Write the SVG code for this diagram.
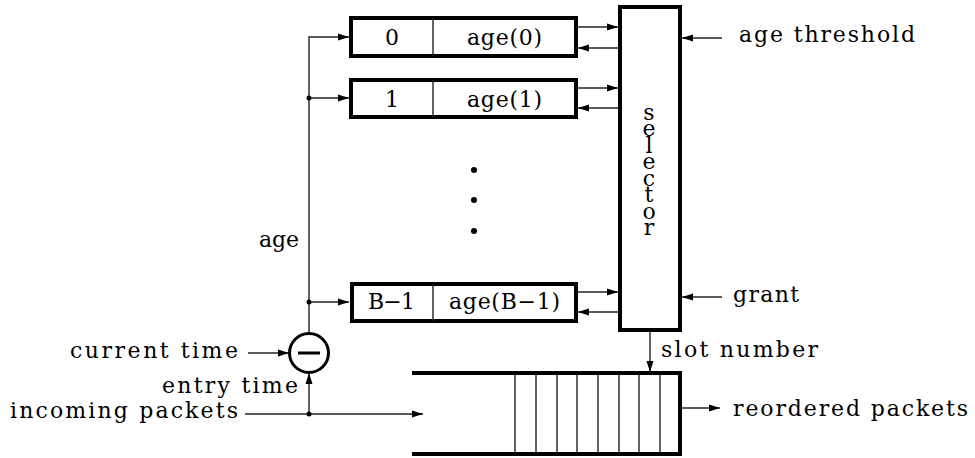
<svg xmlns="http://www.w3.org/2000/svg" width="975" height="458" viewBox="0 0 975 458">
  <style>
    .thin { fill: none; stroke: #222; stroke-width: 1.4; }
    .thick { fill: #fff; stroke: #000; stroke-width: 4; }
    .bar { fill: none; stroke: #000; stroke-width: 4; }
    .lbl { font-family: 'DejaVu Serif', 'Liberation Serif', serif; font-size: 22px; fill: #000; }
    .mid { text-anchor: middle; }
    .vert { writing-mode: vertical-rl; text-orientation: upright; }
    .dot { fill: #000; }
  </style>
  <defs>
    <marker id="arr" markerUnits="userSpaceOnUse" markerWidth="12" markerHeight="10" refX="11" refY="4" orient="auto">
      <path d="M0,0.5 L11,4 L0,7.5 Z" fill="#000"/>
    </marker>
  </defs>

  <!-- connectors -->
  <g id="connectors" class="thin">
    <!-- age bus feeding the slot registers -->
    <path d="M309,333 V37 H349" marker-end="url(#arr)"/>
    <path d="M309,98 H349" marker-end="url(#arr)"/>
    <path d="M309,302 H349" marker-end="url(#arr)"/>
    <!-- register <-> selector -->
    <path d="M578,27 H618" marker-end="url(#arr)"/>
    <path d="M618,48 H578" marker-end="url(#arr)"/>
    <path d="M578,88 H618" marker-end="url(#arr)"/>
    <path d="M618,108 H578" marker-end="url(#arr)"/>
    <path d="M578,292 H618" marker-end="url(#arr)"/>
    <path d="M618,312 H578" marker-end="url(#arr)"/>
    <!-- selector inputs -->
    <path d="M722,38 H682" marker-end="url(#arr)"/>
    <path d="M722,297 H682" marker-end="url(#arr)"/>
    <!-- slot number -->
    <path d="M650,332 V372" marker-end="url(#arr)"/>
    <!-- subtractor inputs -->
    <path d="M248,353 H289" marker-end="url(#arr)"/>
    <path d="M309,414 V373" marker-end="url(#arr)"/>
    <!-- packets in / out -->
    <path d="M245,414 H423" marker-end="url(#arr)"/>
    <path d="M682,408 H720" marker-end="url(#arr)"/>
  </g>

  <g id="junctions">
    <circle class="dot" cx="309" cy="98" r="2.5"/>
    <circle class="dot" cx="309" cy="302" r="2.5"/>
    <circle class="dot" cx="309" cy="414" r="2.5"/>
  </g>

  <!-- slot registers -->
  <g id="slot0">
    <rect class="thick" x="351" y="18" width="225" height="38"/>
    <line class="thin" x1="433" y1="18" x2="433" y2="56"/>
    <text class="lbl mid" x="392" y="45">0</text>
    <text class="lbl" x="467" y="45" textLength="75" lengthAdjust="spacing">age(0)</text>
  </g>
  <g id="slot1">
    <rect class="thick" x="351" y="80" width="225" height="37"/>
    <line class="thin" x1="433" y1="80" x2="433" y2="117"/>
    <text class="lbl mid" x="392" y="107">1</text>
    <text class="lbl" x="467" y="107" textLength="75" lengthAdjust="spacing">age(1)</text>
  </g>
  <g id="ellipsis">
    <circle class="dot" cx="474" cy="170" r="3"/>
    <circle class="dot" cx="474" cy="200" r="3"/>
    <circle class="dot" cx="474" cy="231" r="3"/>
  </g>
  <g id="slotB1">
    <rect class="thick" x="352" y="284" width="224" height="37"/>
    <line class="thin" x1="433" y1="284" x2="433" y2="321"/>
    <text class="lbl" x="368" y="309" textLength="47" lengthAdjust="spacing">B−1</text>
    <text class="lbl" x="449" y="309" textLength="111" lengthAdjust="spacing">age(B−1)</text>
  </g>

  <!-- selector -->
  <g id="selector">
    <rect class="thick" x="620" y="7" width="60" height="323"/>
    <text class="lbl vert" x="649" y="100" textLength="140" lengthAdjust="spacing">selector</text>
  </g>

  <!-- subtractor -->
  <g id="subtractor">
    <circle cx="309" cy="353" r="19.5" fill="#fff" stroke="#000" stroke-width="3"/>
    <line x1="298" y1="353" x2="320" y2="353" stroke="#000" stroke-width="3"/>
  </g>

  <!-- reorder buffer -->
  <g id="buffer">
    <g class="thin">
      <line x1="515" y1="373" x2="515" y2="454"/>
      <line x1="536" y1="373" x2="536" y2="454"/>
      <line x1="557" y1="373" x2="557" y2="454"/>
      <line x1="577" y1="373" x2="577" y2="454"/>
      <line x1="598" y1="373" x2="598" y2="454"/>
      <line x1="619" y1="373" x2="619" y2="454"/>
      <line x1="639" y1="373" x2="639" y2="454"/>
      <line x1="660" y1="373" x2="660" y2="454"/>
    </g>
    <path class="bar" d="M412,373 H680 V454 H412"/>
  </g>

  <!-- signal labels -->
  <g id="labels" class="lbl">
    <text x="739" y="42" textLength="176" lengthAdjust="spacing">age threshold</text>
    <text x="733" y="302" textLength="66" lengthAdjust="spacing">grant</text>
    <text x="661" y="357" textLength="157" lengthAdjust="spacing">slot number</text>
    <text x="733" y="416" textLength="235" lengthAdjust="spacing">reordered packets</text>
    <text x="70" y="358" textLength="168" lengthAdjust="spacing">current time</text>
    <text x="162" y="393" textLength="136" lengthAdjust="spacing">entry time</text>
    <text x="10" y="418" textLength="228" lengthAdjust="spacing">incoming packets</text>
    <text x="259" y="247" textLength="40" lengthAdjust="spacing">age</text>
  </g>
</svg>
